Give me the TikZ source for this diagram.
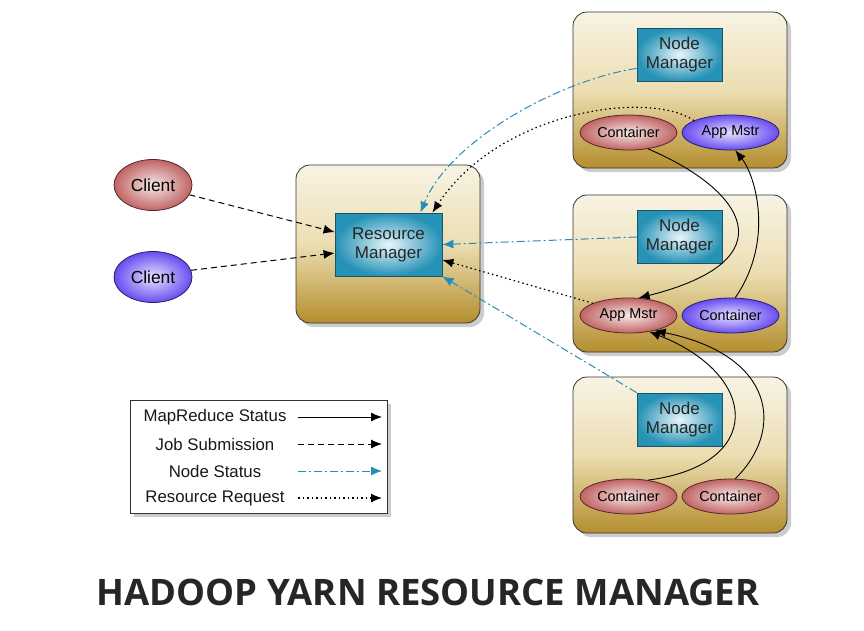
\documentclass[tikz,border=0pt]{standalone}
\usepackage{fontspec}
\setmainfont{Liberation Sans}
\newfontfamily\titlefont{Open Sans}
\usetikzlibrary{shapes.geometric, arrows.meta, shadows}

\definecolor{boxTop}{RGB}{248,243,228}
\definecolor{boxMid}{RGB}{236,222,178}
\definecolor{boxBot}{RGB}{180,142,46}
\definecolor{tealOut}{RGB}{38,146,182}
\definecolor{tealIn}{RGB}{232,246,250}
\definecolor{tealEdge}{RGB}{26,84,104}
\definecolor{redOut}{RGB}{192,100,100}
\definecolor{redIn}{RGB}{248,232,232}
\definecolor{redEdge}{RGB}{88,40,40}
\definecolor{bluOut}{RGB}{104,76,240}
\definecolor{bluIn}{RGB}{232,226,255}
\definecolor{bluEdge}{RGB}{40,30,110}
\definecolor{nsTeal}{RGB}{40,140,180}

\tikzset{
	boxshadow/.style={drop shadow={shadow xshift=4pt, shadow yshift=-4pt, fill=black!40}},
	grpbox/.style={draw=black!80, line width=0.8pt, rounded corners=14pt,
		top color=boxTop, bottom color=boxBot, middle color=boxMid, boxshadow},
	mgrbox/.style={draw=tealEdge, line width=0.8pt, inner color=tealIn, outer color=tealOut,
		align=center, font=\fontsize{17}{19}\selectfont, text=black!85},
	redell/.style={ellipse, draw=redEdge, line width=0.8pt, inner color=redIn, outer color=redOut,
		minimum width=97pt, minimum height=35pt, inner sep=0pt, font=\fontsize{14.4}{16}\selectfont},
	bluell/.style={ellipse, draw=bluEdge, line width=0.8pt, inner color=bluIn, outer color=bluOut,
		minimum width=97pt, minimum height=35pt, inner sep=0pt, font=\fontsize{14.4}{16}\selectfont},
	tip/.style={-{Latex[length=11pt, width=9pt]}},
	mrline/.style={tip, line width=0.9pt},
	jsline/.style={tip, line width=1pt, dash pattern=on 6pt off 4pt},
	nsline/.style={tip, line width=1pt, color=nsTeal, dash pattern=on 8pt off 3pt on 2pt off 3pt},
	rqline/.style={tip, line width=1.2pt, dash pattern=on 1.5pt off 3pt},
	legtext/.style={font=\fontsize{16.8}{18}\selectfont, text=black!90}
}

\begin{document}
\begin{tikzpicture}[x=1pt, y=-1pt]
	\useasboundingbox (0, 0) rectangle (864, 630);
	
	% group boxes
	\node[grpbox, minimum width=184pt, minimum height=158pt] (rmgrp) at (388, 244) {};
	\node[grpbox, minimum width=214pt, minimum height=156pt] (grpA) at (680, 90) {};
	\node[grpbox, minimum width=214pt, minimum height=157pt] (grpB) at (680, 273.5) {};
	\node[grpbox, minimum width=214pt, minimum height=156pt] (grpC) at (680, 455) {};
	
	% managers
	\node[mgrbox, minimum width=107pt, minimum height=63pt] (rm) at (388.5, 244.5) {Resource\\Manager};
	\node[mgrbox, minimum width=85pt, minimum height=53pt] (nmA) at (679.5, 54.5) {Node\\Manager};
	\node[mgrbox, minimum width=85pt, minimum height=53pt] (nmB) at (679.5, 237) {Node\\Manager};
	\node[mgrbox, minimum width=85pt, minimum height=53pt] (nmC) at (679.5, 419.5) {Node\\Manager};
	
	% clients
	\node[redell, minimum width=78pt, minimum height=51pt, font=\fontsize{17.4}{19}\selectfont] (cliA) at (153, 185) {Client};
	\node[bluell, minimum width=78pt, minimum height=51pt, font=\fontsize{17.4}{19}\selectfont] (cliB) at (153, 277) {Client};
	
	% containers and app masters
	\node[redell] (contA) at (628.5, 132.5) {Container};
	\node[bluell] (amA) at (730.5, 132.5) {App Mstr};
	\node[redell] (amB) at (628.5, 315.5) {App Mstr};
	\node[bluell] (contB) at (730.5, 315.5) {Container};
	\node[redell] (contC) at (628.5, 496.5) {Container};
	\node[redell] (contD) at (730.5, 496.5) {Container};
	
	% job submission
	\draw[jsline] (cliA.-15) -- (rm.167);
	\draw[jsline] (cliB.10) -- (rm.-171);
	
	% node status
	\draw[nsline] (nmA.198) .. controls (560, 80) and (450, 140) .. (rm.45);
	\draw[nsline] (nmB.west) -- (rm.east);
	\draw[nsline] (nmC.north west) -- (rm.south east);
	
	% resource request
	\draw[rqline] (amA.162) .. controls (650, 90) and (500, 110) .. (rm.36);
	\draw[rqline] (amB.161) -- (rm.-16);
	
	% mapreduce status
	\draw[mrline] (contA.-40) .. controls (745, 190) and (790, 260) .. (amB.60);
	\draw[mrline] (contB.75) .. controls (775, 240) and (755, 175) .. (amA.-75);
	\draw[mrline] (contC.40) .. controls (765, 465) and (760, 375) .. (amB.-38);
	\draw[mrline] (contD.75) .. controls (785, 430) and (775, 355) .. (amB.-30);
	
	% legend
	\node[draw=black!80, line width=0.8pt, fill=white, minimum width=257pt, minimum height=113pt,
		boxshadow] (legend) at (258.5, 456.5) {};
	\node[legtext] (legA) at (215, 417) {MapReduce Status};
	\node[legtext] (legB) at (215, 444) {Job Submission};
	\node[legtext] (legC) at (215, 471) {Node Status};
	\node[legtext] (legD) at (215, 498) {Resource Request};
	\coordinate (la0) at (298, 417); \coordinate (la1) at (382, 417);
	\coordinate (lb0) at (298, 444); \coordinate (lb1) at (382, 444);
	\coordinate (lc0) at (298, 471); \coordinate (lc1) at (382, 471);
	\coordinate (ld0) at (298, 498); \coordinate (ld1) at (382, 498);
	\draw[mrline] (la0) -- (la1);
	\draw[jsline] (lb0) -- (lb1);
	\draw[nsline] (lc0) -- (lc1);
	\draw[rqline] (ld0) -- (ld1);
	
	% title
	\node[font=\titlefont\bfseries\fontsize{36.5}{40}\selectfont, text=black!85] (title) at (428, 592) {HADOOP YARN RESOURCE MANAGER};
\end{tikzpicture}
\end{document}
